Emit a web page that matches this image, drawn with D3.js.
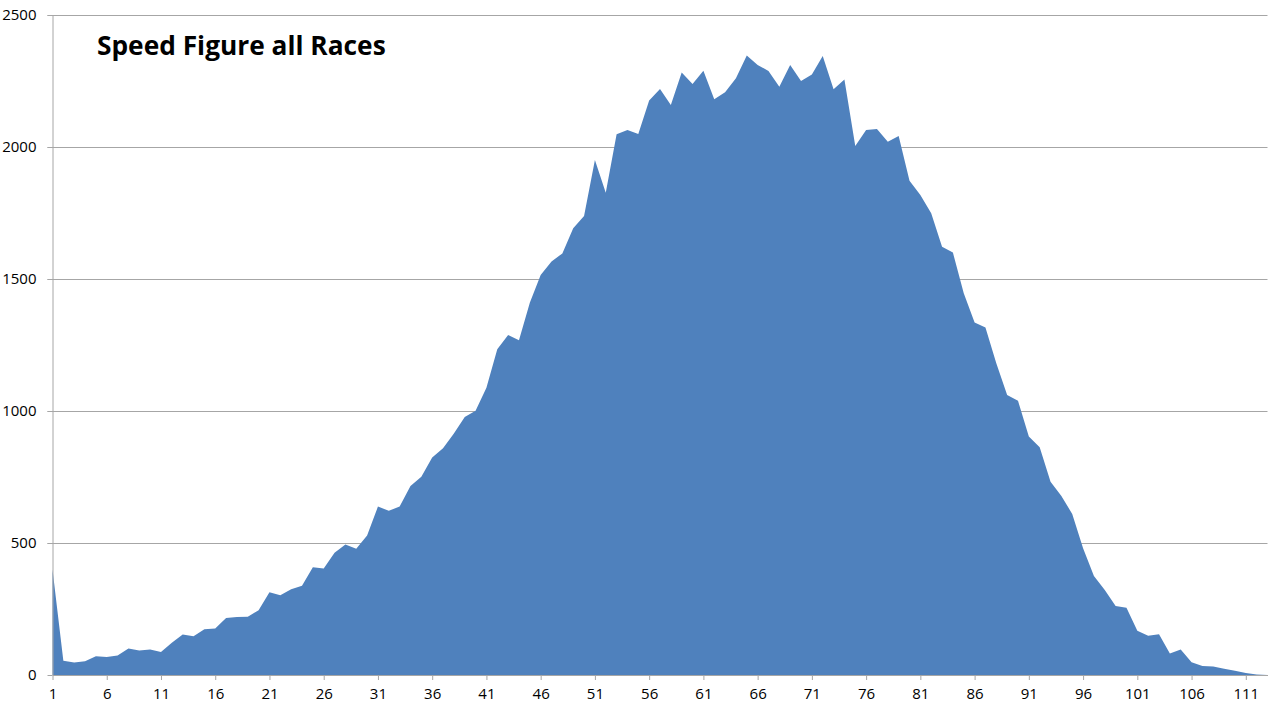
<!DOCTYPE html>
<html>
<head>
<meta charset="utf-8">
<script src="https://cdn.jsdelivr.net/npm/d3@7"></script>
<style>
  body { margin: 0; background: #fff; }
  #chart text { font-family: "Open Sans", "Noto Sans", sans-serif; fill: #000; }
</style>
</head>
<body>
<div id="chart"></div>
<script>
// speed figure buckets 1..113 and the number of races in each
var CATEGORIES = d3.range(1, 114);
var COUNTS = [
  400, 54, 47, 52, 71, 68, 74, 100, 93, 97,
  87, 122, 153, 147, 173, 176, 216, 220, 221, 245,
  313, 302, 325, 338, 408, 403, 463, 494, 478, 528,
  638, 622, 638, 716, 751, 824, 859, 915, 977, 1001,
  1088, 1234, 1288, 1268, 1410, 1515, 1566, 1597, 1692, 1739,
  1951, 1827, 2048, 2064, 2049, 2176, 2220, 2159, 2282, 2239,
  2289, 2181, 2207, 2260, 2347, 2311, 2288, 2228, 2311, 2250,
  2275, 2345, 2219, 2256, 2004, 2064, 2068, 2020, 2042, 1872,
  1818, 1749, 1622, 1600, 1446, 1335, 1316, 1181, 1061, 1039,
  903, 863, 732, 678, 610, 480, 375, 322, 261, 255,
  168, 149, 154, 81, 97, 48, 34, 32, 24, 16,
  8, 2, 0
];
var Y_TICKS = [0, 500, 1000, 1500, 2000, 2500];
var X_LABELS = CATEGORIES.filter(function(d) { return (d - 1) % 5 == 0; });
var TITLE = "Speed Figure all Races";

var W = 1279, H = 714;
var plotLeft = 52.5, plotRight = 1267.5, plotTop = 15, plotBottom = 675;

var svg = d3.select("#chart").append("svg")
    .attr("width", W)
    .attr("height", H);

var x = d3.scalePoint().domain(CATEGORIES).range([plotLeft, plotRight]);
var y = d3.scaleLinear().domain([0, 2500]).range([plotBottom, plotTop]);

// gridlines
svg.append("g").selectAll("line")
    .data(Y_TICKS.filter(function(d) { return d > 0; }))
    .enter().append("line")
    .attr("x1", plotLeft - 5).attr("x2", plotRight)
    .attr("y1", function(d) { return y(d) + 0.5; })
    .attr("y2", function(d) { return y(d) + 0.5; })
    .attr("stroke", "#a6a6a6").attr("stroke-width", 1);

var data = CATEGORIES.map(function(c, i) { return {c: c, v: COUNTS[i]}; });
var area = d3.area()
    .x(function(d) { return x(d.c); })
    .y0(y(0))
    .y1(function(d) { return y(d.v); });

svg.append("path")
    .datum(data)
    .attr("d", area)
    .attr("fill", "#4f81bd");

// axes
var yAxis = svg.append("g")
    .attr("transform", "translate(" + plotLeft + ",0)")
    .call(d3.axisLeft(y).tickValues(Y_TICKS).tickFormat(d3.format("d"))
        .tickSize(5).tickPadding(11).tickSizeOuter(0));
var xAxis = svg.append("g")
    .attr("transform", "translate(0," + plotBottom + ")")
    .call(d3.axisBottom(x).tickValues(X_LABELS).tickSize(5).tickPadding(8).tickSizeOuter(0));

[yAxis, xAxis].forEach(function(g) {
    g.select(".domain").attr("stroke", "#a6a6a6");
    g.selectAll(".tick line").attr("stroke", "#a6a6a6");
    g.selectAll(".tick text").style("font-size", "15px");
});

svg.append("text")
    .attr("x", 97).attr("y", 55)
    .style("font-size", "26.3px").style("font-weight", "bold")
    .text(TITLE);
</script>
</body>
</html>
